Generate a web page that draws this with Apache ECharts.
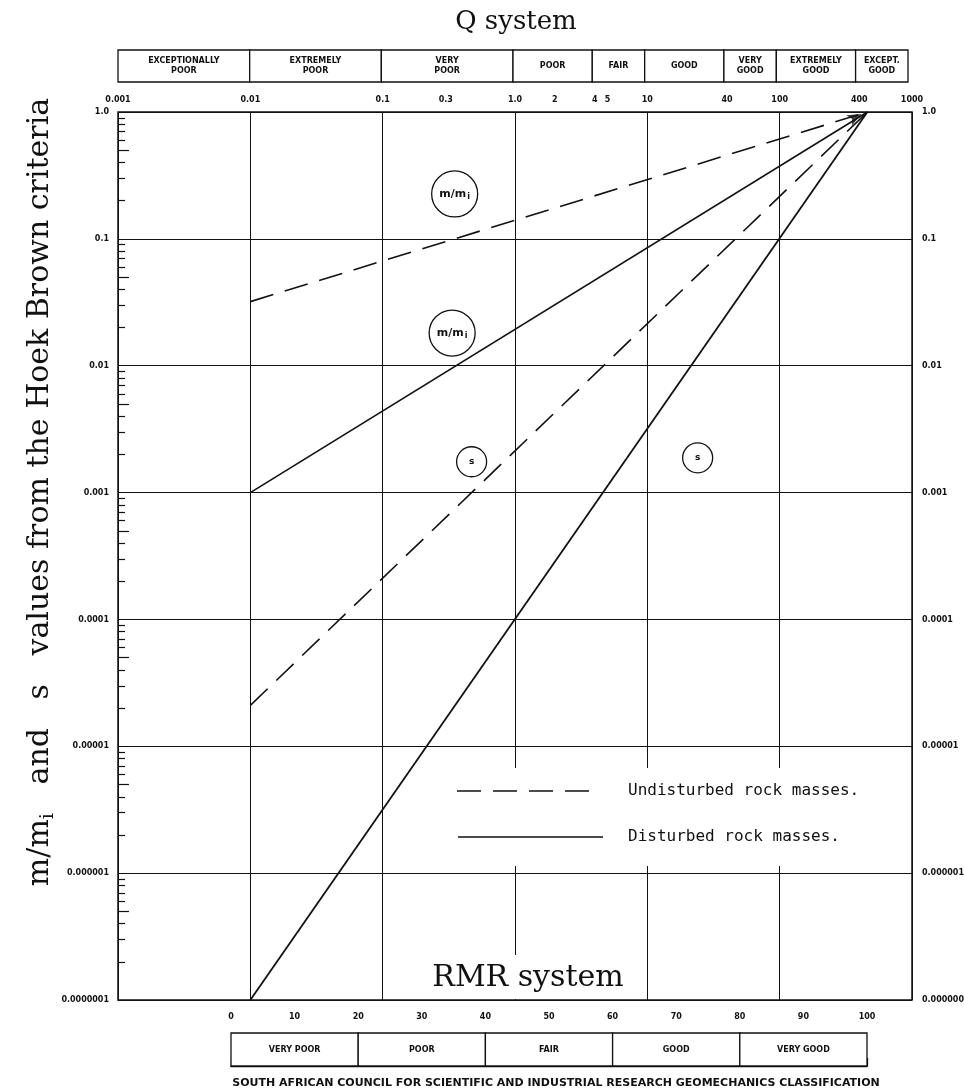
<!DOCTYPE html>
<html><head><meta charset="utf-8">
<script src="https://cdn.jsdelivr.net/npm/echarts@6/dist/echarts.min.js"></script>
<style>html,body{margin:0;padding:0;background:#fff}#c{width:964px;height:1091px}</style>
</head><body><div id="c"></div>
<script>
// ---- data ----
const qTickValues = [0.001, 0.01, 0.1, 0.3, 1, 2, 4, 5, 10, 40, 100, 400, 1000];
const qTickLabels = ['0.001', '0.01', '0.1', '0.3', '1.0', '2', '4', '5', '10', '40', '100', '400', '1000'];
const qClassStart = [0.001, 0.01, 0.1, 1, 4, 10, 40, 100, 400];
const qClassEnd   = [0.01, 0.1, 1, 4, 10, 40, 100, 400, 1000];
const qClassNames = ['EXCEPTIONALLY\nPOOR', 'EXTREMELY\nPOOR', 'VERY\nPOOR', 'POOR', 'FAIR', 'GOOD', 'VERY\nGOOD', 'EXTREMELY\nGOOD', 'EXCEPT.\nGOOD'];
const rmrTickLabels = ['0', '10', '20', '30', '40', '50', '60', '70', '80', '90', '100'];
const rmrClassStart = [0, 20, 40, 60, 80];
const rmrClassEnd   = [20, 40, 60, 80, 100];
const rmrClassNames = ['VERY POOR', 'POOR', 'FAIR', 'GOOD', 'VERY GOOD'];
const yTickLabels = ['0.0000001', '0.000001', '0.00001', '0.0001', '0.001', '0.01', '0.1', '1.0'];
const yDecades = [1e-7, 1e-6, 1e-5, 1e-4, 1e-3, 1e-2, 1e-1];
const minorMultipliers = [2, 3, 4, 6, 7, 8, 9];
const minorLongMultipliers = [5];

const undisturbedMmi = [[0.01, 0.032], [460, 1.0]];
const disturbedMmi   = [[0.01, 0.001], [460, 1.0]];
const undisturbedS   = [[0.01, 0.000021], [460, 1.0]];
const disturbedS     = [[0.01, 0.0000001], [460, 1.0]];

const annotQ = [0.35, 0.335, 0.47, 24];
const annotV = [0.226, 0.0181, 0.00175, 0.00188];
const annotText = ['m/mi', 'm/mi', 's', 's'];

// ---- helpers ----
const INK = '#111';
const minorTicks = [];
yDecades.forEach(d => minorMultipliers.forEach(m => minorTicks.push(d * m)));
const minorLongTicks = [];
yDecades.forEach(d => minorLongMultipliers.forEach(m => minorLongTicks.push(d * m)));

function qLabel(v) {
  for (let i = 0; i < qTickValues.length; i++) {
    if (Math.abs(Math.log10(v) - Math.log10(qTickValues[i])) < 1e-6) return qTickLabels[i];
  }
  return '';
}
function yLabel(v) {
  const i = Math.round(Math.log10(v)) + 7;
  return yTickLabels[i] || '';
}
const smallFont = { fontFamily: 'DejaVu Sans', fontWeight: 'bold', fontSize: 8, color: INK };

function bandRender(names, font) {
  return function (params, api) {
    const i = params.dataIndex;
    const p0 = api.coord([api.value(0), 1]);
    const p1 = api.coord([api.value(1), 0]);
    return {
      type: 'group',
      children: [
        { type: 'rect', shape: { x: p0[0], y: p0[1], width: p1[0] - p0[0], height: p1[1] - p0[1] },
          style: { fill: '#fff', stroke: INK, lineWidth: 1.3 } },
        { type: 'text', style: { text: names[i], x: (p0[0] + p1[0]) / 2, y: (p0[1] + p1[1]) / 2,
          align: 'center', verticalAlign: 'middle', font: font, lineHeight: 10, fill: INK } }
      ]
    };
  };
}

const chart = echarts.init(document.getElementById('c'), null, { renderer: 'canvas' });

const option = {
  animation: false,
  backgroundColor: '#fff',
  grid: [
    { left: 118, top: 112, width: 794, height: 888, show: true, borderColor: INK, borderWidth: 1.5, backgroundColor: 'transparent', outerBoundsMode: 'none', containLabel: false },
    { left: 118, top: 50, width: 790, height: 32, outerBoundsMode: 'none', containLabel: false },
    { left: 231, top: 1033, width: 636, height: 33, outerBoundsMode: 'none', containLabel: false }
  ],
  xAxis: [
    { type: 'log', gridIndex: 0, logBase: 10, min: 0.001, max: 1000, position: 'top',
      axisLine: { show: false }, axisTick: { show: false },
      splitLine: { show: true, lineStyle: { color: INK, width: 1 } },
      axisLabel: Object.assign({ customValues: qTickValues, formatter: qLabel, margin: 8 }, smallFont) },
    { type: 'log', gridIndex: 1, logBase: 10, min: 0.001, max: 1000, show: false },
    { type: 'value', gridIndex: 2, min: 0, max: 100, interval: 10, position: 'top',
      axisLine: { show: true, lineStyle: { color: INK, width: 1.3 } },
      axisTick: { show: true, length: 8, lineStyle: { color: INK, width: 1.3 } },
      splitLine: { show: false },
      axisLabel: Object.assign({ margin: 12, formatter: (v) => rmrTickLabels[Math.round(v / 10)] }, smallFont) }
  ],
  yAxis: [
    { type: 'log', gridIndex: 0, logBase: 10, min: 1e-7, max: 1, position: 'left',
      axisLine: { show: false }, axisTick: { show: false },
      splitLine: { show: true, lineStyle: { color: INK, width: 1 } },
      axisLabel: Object.assign({ formatter: yLabel, margin: 9 }, smallFont) },
    { type: 'log', gridIndex: 0, logBase: 10, min: 1e-7, max: 1, position: 'right',
      axisLine: { show: false }, axisTick: { show: false }, splitLine: { show: false },
      axisLabel: Object.assign({ formatter: yLabel, margin: 10 }, smallFont) },
    { type: 'log', gridIndex: 0, logBase: 10, min: 1e-7, max: 1, position: 'left',
      axisLine: { show: false }, splitLine: { show: false }, axisLabel: { show: false },
      axisTick: { show: true, inside: true, length: 7, customValues: minorTicks, lineStyle: { color: INK, width: 1.2 } } },
    { type: 'log', gridIndex: 0, logBase: 10, min: 1e-7, max: 1, position: 'left',
      axisLine: { show: false }, splitLine: { show: false }, axisLabel: { show: false },
      axisTick: { show: true, inside: true, length: 11, customValues: minorLongTicks, lineStyle: { color: INK, width: 1.2 } } },
    { type: 'value', gridIndex: 1, min: 0, max: 1, show: false },
    { type: 'value', gridIndex: 2, min: 0, max: 1, show: false }
  ],
  series: [
    { type: 'custom', name: 'Q classes', xAxisIndex: 1, yAxisIndex: 4, clip: false,
      data: qClassStart.map((s, i) => [s, qClassEnd[i]]),
      encode: { x: [0, 1] },
      renderItem: bandRender(qClassNames, 'bold 8px DejaVu Sans') },
    { type: 'custom', name: 'RMR classes', xAxisIndex: 2, yAxisIndex: 5, clip: false,
      data: rmrClassStart.map((s, i) => [s, rmrClassEnd[i]]),
      encode: { x: [0, 1] },
      renderItem: bandRender(rmrClassNames, 'bold 8px DejaVu Sans') },
    { type: 'line', name: 'Undisturbed m/mi', xAxisIndex: 0, yAxisIndex: 0, data: undisturbedMmi, symbol: 'none', z: 5,
      lineStyle: { color: INK, width: 1.6, type: [24, 12] } },
    { type: 'line', name: 'Disturbed m/mi', xAxisIndex: 0, yAxisIndex: 0, data: disturbedMmi, symbol: 'none', z: 5,
      lineStyle: { color: INK, width: 1.6, type: 'solid' } },
    { type: 'line', name: 'Undisturbed s', xAxisIndex: 0, yAxisIndex: 0, data: undisturbedS, symbol: 'none', z: 5,
      lineStyle: { color: INK, width: 1.6, type: [24, 12] } },
    { type: 'line', name: 'Disturbed s', xAxisIndex: 0, yAxisIndex: 0, data: disturbedS, symbol: 'none', z: 5,
      lineStyle: { color: INK, width: 1.8, type: 'solid' } },
    { type: 'scatter', name: 'arrowhead', xAxisIndex: 0, yAxisIndex: 0, z: 7, silent: true,
      data: [disturbedMmi[disturbedMmi.length - 1]],
      symbol: 'arrow', symbolSize: [9, 14], symbolRotate: -62, symbolOffset: [-6, 2],
      itemStyle: { color: INK } },
    { type: 'scatter', name: 'labels', xAxisIndex: 0, yAxisIndex: 0, z: 6,
      data: annotQ.map((q, i) => ({ value: [q, annotV[i]], name: annotText[i] })),
      symbol: 'circle',
      symbolSize: (v, p) => (p.name === 's' ? 30 : 46),
      itemStyle: { color: '#fff', borderColor: INK, borderWidth: 1.3, opacity: 1 },
      label: { show: true, position: 'inside',
        formatter: (p) => p.name === 's' ? '{s|s}' : '{m|m/m}{i|i}',
        rich: {
          m: { fontFamily: 'DejaVu Sans', fontWeight: 'bold', fontSize: 11, color: INK, lineHeight: 14 },
          i: { fontFamily: 'DejaVu Sans', fontWeight: 'bold', fontSize: 8, color: INK, verticalAlign: 'bottom', padding: [6, 0, 0, 1] },
          s: { fontFamily: 'DejaVu Sans', fontWeight: 'bold', fontSize: 9, color: INK }
        } },
      emphasis: { disabled: true } }
  ],
  graphic: [
    { type: 'text', x: 516, y: 22, z: 10,
      style: { text: 'Q system', font: '26px DejaVu Serif', fill: INK, align: 'center', verticalAlign: 'middle' } },
    { type: 'text', x: 40, y: 492, rotation: Math.PI / 2, z: 10,
      style: { text: '{a|m/m}{s|i}{a|   and   s   values from the Hoek Brown criteria}', align: 'center', verticalAlign: 'middle', fill: INK,
        rich: { a: { fontFamily: 'DejaVu Serif', fontSize: 30, fill: INK, lineHeight: 36 },
                s: { fontFamily: 'DejaVu Serif', fontSize: 19, fill: INK, verticalAlign: 'bottom' } } } },
    { type: 'rect', shape: { x: 415, y: 955, width: 228, height: 44 }, style: { fill: '#fff' }, z: 8 },
    { type: 'text', x: 528, y: 978, z: 10,
      style: { text: 'RMR system', font: '30px DejaVu Serif', fill: INK, align: 'center', verticalAlign: 'middle' } },
    { type: 'rect', shape: { x: 445, y: 768, width: 435, height: 98 }, style: { fill: '#fff' }, z: 8 },
    { type: 'line', shape: { x1: 457, y1: 791, x2: 599, y2: 791 }, style: { stroke: INK, lineWidth: 1.6, lineDash: [24, 12] }, z: 10 },
    { type: 'text', x: 628, y: 791, z: 10,
      style: { text: 'Undisturbed rock masses.', font: '16px DejaVu Sans Mono', fill: INK, align: 'left', verticalAlign: 'middle' } },
    { type: 'line', shape: { x1: 458, y1: 837, x2: 603, y2: 837 }, style: { stroke: INK, lineWidth: 1.6 }, z: 10 },
    { type: 'text', x: 628, y: 837, z: 10,
      style: { text: 'Disturbed rock masses.', font: '16px DejaVu Sans Mono', fill: INK, align: 'left', verticalAlign: 'middle' } },
    { type: 'text', x: 556, y: 1083, z: 10,
      style: { text: 'SOUTH AFRICAN COUNCIL FOR SCIENTIFIC AND INDUSTRIAL RESEARCH GEOMECHANICS CLASSIFICATION',
        font: 'bold 11px DejaVu Sans', fill: INK, align: 'center', verticalAlign: 'middle' } }
  ]
};
chart.setOption(option);
</script>
</body></html>
